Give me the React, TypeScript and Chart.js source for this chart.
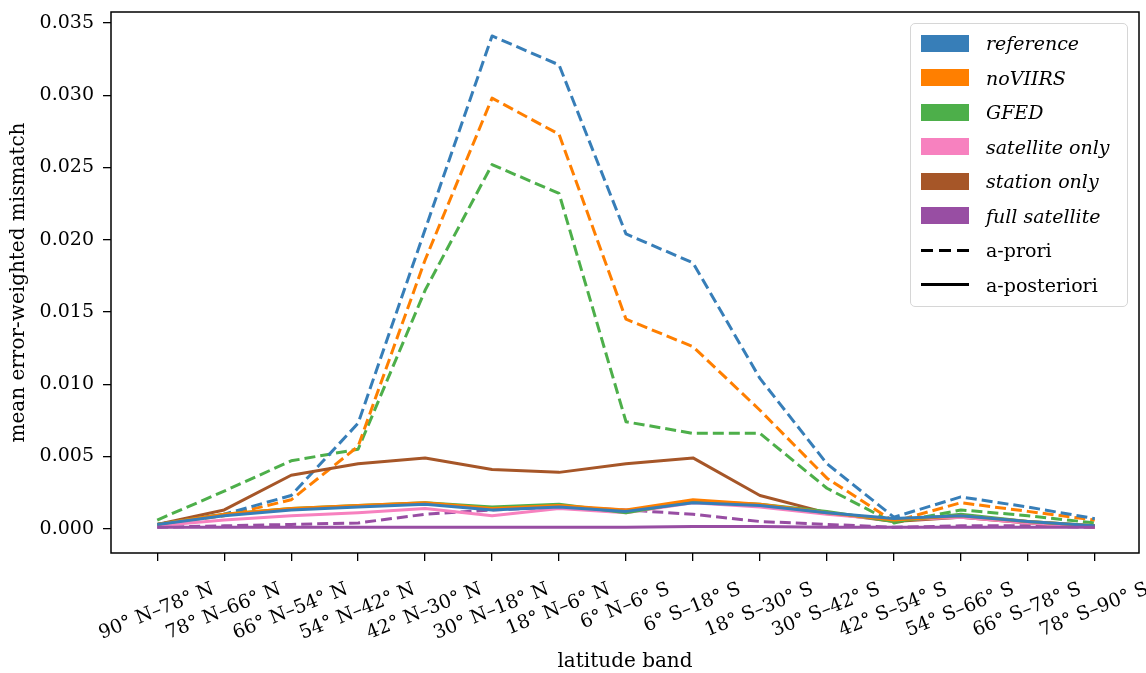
import React, { useEffect, useRef } from "react";
import { Chart, registerables } from "chart.js";

Chart.register(...registerables);

// ---------- data ----------
const latitudeBands = [
  "90° N–78° N", "78° N–66° N", "66° N–54° N", "54° N–42° N", "42° N–30° N",
  "30° N–18° N", "18° N–6° N", "6° N–6° S", "6° S–18° S", "18° S–30° S",
  "30° S–42° S", "42° S–54° S", "54° S–66° S", "66° S–78° S", "78° S–90° S",
];
const yTickValues = [0, 0.005, 0.01, 0.015, 0.02, 0.025, 0.03, 0.035];

// a-priori (dashed)
const referencePrior = [0.0003, 0.0010, 0.0023, 0.0073, 0.0207, 0.0341, 0.0321, 0.0204, 0.0184, 0.0104, 0.0045, 0.0008, 0.0022, 0.0015, 0.0007];
const noViirsPrior = [0.0003, 0.0009, 0.0020, 0.0057, 0.0186, 0.0298, 0.0273, 0.0145, 0.0126, 0.0082, 0.0035, 0.0005, 0.0018, 0.0012, 0.0006];
const gfedPrior = [0.0006, 0.0026, 0.0047, 0.0055, 0.0165, 0.0252, 0.0232, 0.0074, 0.0066, 0.0066, 0.0028, 0.0004, 0.0013, 0.0009, 0.0004];
const fullSatellitePrior = [0.0001, 0.0002, 0.0003, 0.0004, 0.0010, 0.0013, 0.0015, 0.0013, 0.0010, 0.0005, 0.0003, 0.0001, 0.0002, 0.0002, 0.0001];

// a-posteriori (solid)
const referencePost = [0.0003, 0.0009, 0.0013, 0.0015, 0.0017, 0.0013, 0.0015, 0.0012, 0.0018, 0.0016, 0.0011, 0.0007, 0.0009, 0.0005, 0.0002];
const noViirsPost = [0.0003, 0.0010, 0.0014, 0.0016, 0.0018, 0.0014, 0.0016, 0.0013, 0.0020, 0.0017, 0.0011, 0.0006, 0.0009, 0.0005, 0.0002];
const gfedPost = [0.0003, 0.0010, 0.0014, 0.0016, 0.0018, 0.0015, 0.0017, 0.0011, 0.0019, 0.0017, 0.0012, 0.0005, 0.0010, 0.0005, 0.0002];
const satelliteOnlyPost = [0.0002, 0.0006, 0.0009, 0.0011, 0.0014, 0.0009, 0.0014, 0.0011, 0.0018, 0.0015, 0.0010, 0.0006, 0.0008, 0.0004, 0.0001];
const stationOnlyPost = [0.0003, 0.0013, 0.0037, 0.0045, 0.0049, 0.0041, 0.0039, 0.0045, 0.0049, 0.0023, 0.0011, 0.0005, 0.0008, 0.0004, 0.0001];
const fullSatellitePost = [0.0001, 0.0001, 0.0001, 0.0001, 0.0001, 0.0001, 0.0001, 0.0001, 0.00015, 0.00015, 0.0001, 0.0001, 0.0001, 0.0001, 0.0001];

const legendNames = ["reference", "noVIIRS", "GFED", "satellite only", "station only", "full satellite"];

// ---------- styles ----------
const COLORS = ["#377eb8", "#ff7f00", "#4daf4a", "#f781bf", "#a65628", "#984ea3"];
const FONT = "'DejaVu Serif', serif";

const toPoints = (vals: number[]) => vals.map((y, i) => ({ x: i, y }));

function solid(label: string, vals: number[], color: string) {
  return {
    label,
    data: toPoints(vals),
    borderColor: color,
    backgroundColor: color,
    borderWidth: 3,
    pointRadius: 0,
    borderJoinStyle: "round" as const,
    borderCapStyle: "butt" as const,
    tension: 0,
    fill: false,
  };
}
function dashed(label: string, vals: number[], color: string) {
  return { ...solid(label, vals, color), borderDash: [11, 5] };
}

// centre each rotated x label horizontally under its tick (matplotlib ha="center")
const labelShiftPlugin = {
  id: "labelShift",
  beforeDraw(chart: any) {
    const scale: any = chart.scales.x;
    if (!scale || !scale.getLabelItems) return;
    const items = scale.getLabelItems();
    const ctx = chart.ctx;
    const rot = (scale.labelRotation * Math.PI) / 180;
    ctx.save();
    for (const it of items) {
      if (it._shifted) continue;
      ctx.font = it.font.string;
      const w = ctx.measureText(String(it.label)).width;
      it.options.translation[0] += (w * Math.cos(rot)) / 2 + (it.font.lineHeight / 2) * Math.sin(rot) - 5;
      it._shifted = true;
    }
    ctx.restore();
  },
};

const framePlugin = {
  id: "frame",
  afterDraw(chart: any) {
    const { ctx, chartArea } = chart;
    ctx.save();
    ctx.strokeStyle = "#000";
    ctx.lineWidth = 1.5;
    ctx.strokeRect(chartArea.left, chartArea.top, chartArea.right - chartArea.left, chartArea.bottom - chartArea.top);
    ctx.restore();
  },
};

export default function App() {
  const canvasRef = useRef<HTMLCanvasElement | null>(null);

  useEffect(() => {
    if (!canvasRef.current) return;
    const datasets = [
      solid("full satellite a-posteriori", fullSatellitePost, COLORS[5]),
      solid("reference a-posteriori", referencePost, COLORS[0]),
      solid("noVIIRS a-posteriori", noViirsPost, COLORS[1]),
      solid("GFED a-posteriori", gfedPost, COLORS[2]),
      solid("satellite only a-posteriori", satelliteOnlyPost, COLORS[3]),
      solid("station only a-posteriori", stationOnlyPost, COLORS[4]),
      dashed("reference a-prori", referencePrior, COLORS[0]),
      dashed("noVIIRS a-prori", noViirsPrior, COLORS[1]),
      dashed("GFED a-prori", gfedPrior, COLORS[2]),
      dashed("full satellite a-prori", fullSatellitePrior, COLORS[5]),
    ];
    const chart = new Chart(canvasRef.current, {
      type: "line",
      data: { datasets },
      options: {
        responsive: false,
        animation: false,
        devicePixelRatio: 1,
        events: [],
        layout: { padding: { left: 0, right: 7, top: 12, bottom: 0 } },
        plugins: { legend: { display: false }, tooltip: { enabled: false } },
        scales: {
          x: {
            type: "linear",
            min: -0.69,
            max: 14.66,
            afterFit: (axis: any) => {
              axis.height = 120;
              axis.paddingLeft = 0;
              axis.paddingRight = 0;
            },
            afterBuildTicks: (axis: any) => { axis.ticks = latitudeBands.map((_, i) => ({ value: i })); },
            ticks: {
              autoSkip: false,
              minRotation: 22,
              maxRotation: 22,
              padding: 17,
              color: "#000",
              font: { family: FONT, size: 19 },
              callback: (v: any) => latitudeBands[Math.round(Number(v))] ?? "",
            },
            grid: { display: true, drawOnChartArea: false, drawTicks: true, tickLength: 8, color: "#000", lineWidth: 1.3 },
            border: { display: false },
            title: {
              display: true,
              text: "latitude band",
              color: "#000",
              font: { family: FONT, size: 20, lineHeight: 1.1 },
              padding: { top: 0, bottom: 0 },
            },
          },
          y: {
            type: "linear",
            min: -0.00168,
            max: 0.03576,
            afterFit: (axis: any) => {
              axis.width = 111;
              axis.paddingTop = 0;
              axis.paddingBottom = 0;
            },
            afterBuildTicks: (axis: any) => { axis.ticks = yTickValues.map((v) => ({ value: v })); },
            ticks: {
              padding: 9,
              color: "#000",
              font: { family: FONT, size: 19 },
              callback: (v: any) => Number(v).toFixed(3),
            },
            grid: { display: true, drawOnChartArea: false, drawTicks: true, tickLength: 8, color: "#000", lineWidth: 1.3 },
            border: { display: false },
            title: {
              display: true,
              text: "mean error-weighted mismatch",
              color: "#000",
              font: { family: FONT, size: 20, lineHeight: 1.1 },
              padding: { top: 8, bottom: 0 },
            },
          },
        },
      },
      plugins: [labelShiftPlugin, framePlugin],
    } as any);
    return () => chart.destroy();
  }, []);

  const rowTop = (i: number) => 19.3 + 34.5 * i;

  return (
    <div style={{ position: "fixed", left: 0, top: 0, width: 1146, height: 673, background: "#fff" }}>
      <canvas ref={canvasRef} width={1146} height={673} style={{ display: "block", width: 1146, height: 673 }} />
      <div
        style={{
          position: "absolute",
          left: 910,
          top: 23,
          width: 216,
          height: 282,
          border: "1.5px solid #d6d6d6",
          borderRadius: 5,
          background: "rgba(255,255,255,0.85)",
          fontFamily: FONT,
          fontSize: 19,
          color: "#000",
        }}
      >
        {legendNames.map((name, i) => (
          <div key={name} style={{ position: "absolute", left: 0, top: rowTop(i), width: "100%", height: 0 }}>
            <div style={{ position: "absolute", left: 10, top: -8.5, width: 48, height: 17, background: COLORS[i] }} />
            <div style={{ position: "absolute", left: 75, top: -13, lineHeight: "26px", fontStyle: "italic", whiteSpace: "nowrap" }}>{name}</div>
          </div>
        ))}
        <div style={{ position: "absolute", left: 0, top: rowTop(6), width: "100%", height: 0 }}>
          <div style={{ position: "absolute", left: 10, top: -1.5, width: 48, height: 3, background: "repeating-linear-gradient(90deg, #000 0 12px, transparent 12px 18px)" }} />
          <div style={{ position: "absolute", left: 75, top: -13, lineHeight: "26px", whiteSpace: "nowrap" }}>a-prori</div>
        </div>
        <div style={{ position: "absolute", left: 0, top: rowTop(7), width: "100%", height: 0 }}>
          <div style={{ position: "absolute", left: 10, top: -1.5, width: 48, height: 3, background: "#000" }} />
          <div style={{ position: "absolute", left: 75, top: -13, lineHeight: "26px", whiteSpace: "nowrap" }}>a-posteriori</div>
        </div>
      </div>
    </div>
  );
}
